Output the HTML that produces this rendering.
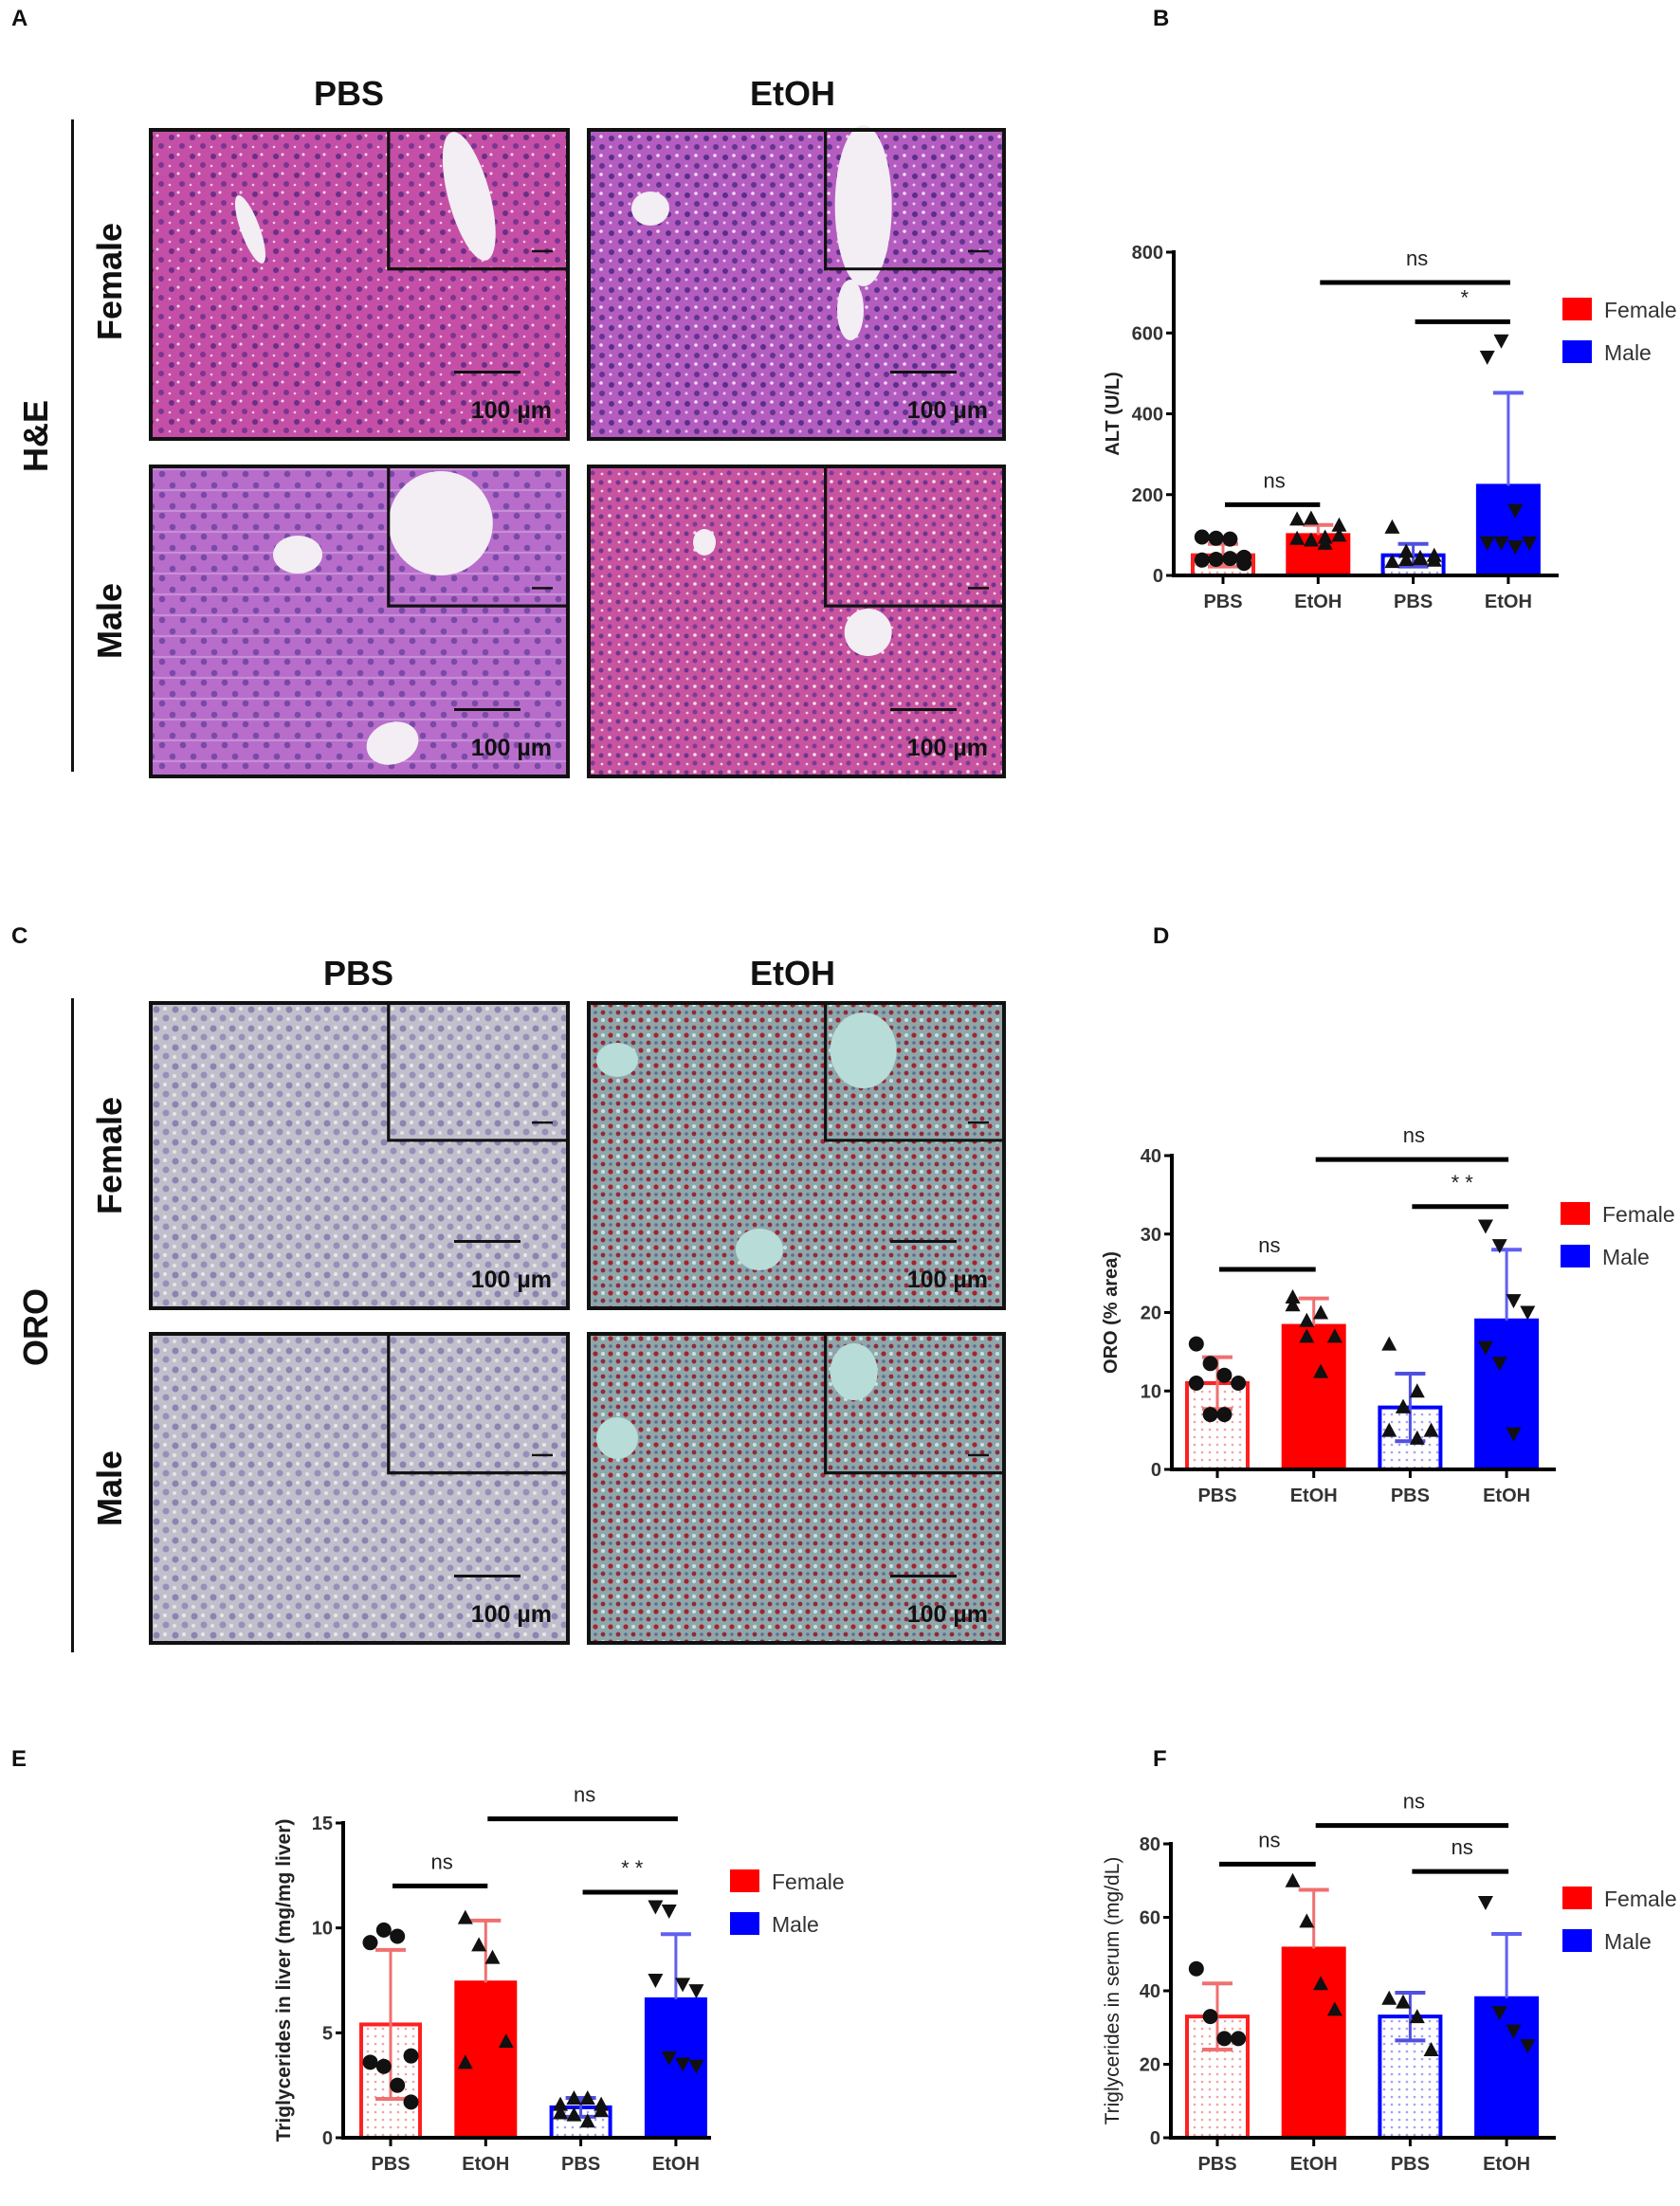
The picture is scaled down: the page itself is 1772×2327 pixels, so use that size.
<!DOCTYPE html>
<html><head><meta charset="utf-8">
<style>
html,body{margin:0;padding:0;background:#fff;}
svg{display:block;}
text{font-family:"Liberation Sans",Arial,sans-serif;}
</style></head>
<body>
<svg id="fig" xmlns="http://www.w3.org/2000/svg" width="1772" height="2327" viewBox="0 0 1772 2327">
<defs>
  <pattern id="heF" width="22" height="20" patternUnits="userSpaceOnUse">
    <rect width="22" height="20" fill="#c54fa6"/>
    <circle cx="5" cy="5" r="3" fill="#6a2f86"/><circle cx="16" cy="14" r="3" fill="#7a3590"/>
    <circle cx="12" cy="3" r="1.5" fill="#f3d6ee"/><circle cx="3" cy="15" r="1.3" fill="#f0c8e8"/>
  </pattern>
  <pattern id="heF2" width="20" height="20" patternUnits="userSpaceOnUse">
    <rect width="20" height="20" fill="#b45cc0"/>
    <circle cx="5" cy="6" r="3" fill="#5a2f8a"/><circle cx="15" cy="15" r="3" fill="#63348e"/>
    <circle cx="14" cy="4" r="1.8" fill="#f1dcf3"/><circle cx="4" cy="15" r="1.5" fill="#e8c8ee"/>
  </pattern>
  <pattern id="heM" width="22" height="22" patternUnits="userSpaceOnUse">
    <rect width="22" height="22" fill="#b86dcb"/>
    <circle cx="6" cy="6" r="3.3" fill="#7b4aa8"/><circle cx="17" cy="16" r="3.3" fill="#7a48a6"/>
    <path d="M0 11 L22 11" stroke="#d9b0e3" stroke-width="1"/>
  </pattern>
  <pattern id="heM2" width="18" height="18" patternUnits="userSpaceOnUse">
    <rect width="18" height="18" fill="#c8539f"/>
    <circle cx="4" cy="5" r="2.5" fill="#6c3590"/><circle cx="13" cy="13" r="2.5" fill="#7a3a98"/>
    <circle cx="13" cy="4" r="1.8" fill="#f5e0f0"/><circle cx="5" cy="14" r="1.4" fill="#f0d0ea"/>
  </pattern>
  <pattern id="oroP" width="20" height="20" patternUnits="userSpaceOnUse">
    <rect width="20" height="20" fill="#c2bfcc"/>
    <circle cx="5" cy="5" r="3.5" fill="#8a84b0"/><circle cx="15" cy="14" r="3.5" fill="#9690b8"/>
    <circle cx="14" cy="4" r="2" fill="#e6e8ea"/><circle cx="4" cy="15" r="2" fill="#e2e4e6"/>
  </pattern>
  <pattern id="oroE" width="16" height="16" patternUnits="userSpaceOnUse">
    <rect width="16" height="16" fill="#8fa6aa"/>
    <circle cx="4" cy="4" r="2.6" fill="#a3242e"/><circle cx="12" cy="12" r="2.4" fill="#8e2a3a"/>
    <circle cx="12" cy="4" r="2" fill="#c8e4e2"/><circle cx="4" cy="12" r="1.8" fill="#5c7090"/>
  </pattern>
  <pattern id="dotR" width="8" height="8" patternUnits="userSpaceOnUse">
    <rect width="8" height="8" fill="#fff"/><circle cx="4" cy="4" r="1.3" fill="#f4a0a0"/>
  </pattern>
  <pattern id="dotB" width="8" height="8" patternUnits="userSpaceOnUse">
    <rect width="8" height="8" fill="#fff"/><circle cx="4" cy="4" r="1.3" fill="#a0a0f4"/>
  </pattern>
</defs>
<g id="micro"></g>
<g id="charts"></g>
</svg>
<script>
// ===== Chart data (top level) =====
const groupLabels = ["PBS","EtOH","PBS","EtOH"];
const legendLabels = ["Female","Male"];

// Panel B: ALT
const altTicks = [0,200,400,600,800];
const altMeans = [50,100,50,222];
const altSD = [28,25,28,230];
const altPts0 = [38,40,42,45,95,92,90,30];
const altPts1 = [140,142,95,100,92,88,80,125];
const altPts2 = [120,40,45,50,35,60,42,38];
const altPts3 = [540,580,160,80,80,80,70];
const altSig = [["ns",0,1,175],["ns",1,3,725],["*",2,3,628]];

// Panel D: ORO
const oroTicks = [0,10,20,30,40];
const oroMeans = [11,18.3,7.9,19];
const oroSD = [3.3,3.5,4.3,9];
const oroPts0 = [16,13.5,12,11,11,7,7];
const oroPts1 = [21,19,20,17,22,17,12.5];
const oroPts2 = [16,8,10,5,5,8,4];
const oroPts3 = [31,28.5,21.5,20,15.5,13.5,4.5];
const oroSig = [["ns",0,1,25.5],["ns",1,3,39.5],["* *",2,3,33.5]];

// Panel E: liver triglycerides
const tgLTicks = [0,5,10,15];
const tgLMeans = [5.4,7.4,1.45,6.6];
const tgLSD = [3.55,2.95,0.45,3.1];
const tgLPts0 = [9.3,9.9,9.6,3.9,3.6,3.4,2.5,1.7];
const tgLPts1 = [10.5,9.2,8.6,4.6,3.6];
const tgLPts2 = [1.6,1.9,1.9,1.3,1.2,1.1,0.8,1.6];
const tgLPts3 = [11.0,10.8,7.3,7.0,7.5,3.8,3.5,3.4];
const tgLSig = [["ns",0,1,12],["ns",1,3,15.2],["* *",2,3,11.7]];

// Panel F: serum triglycerides
const tgSTicks = [0,20,40,60,80];
const tgSMeans = [33,51.5,33,38];
const tgSSD = [9,16,6.5,17.5];
const tgSPts0 = [46,33,27,27];
const tgSPts1 = [70,59,42,35];
const tgSPts2 = [38,37,33,24];
const tgSPts3 = [64,34,29,25];
const tgSSig = [["ns",0,1,74.5],["ns",1,3,85],["ns",2,3,72.5]];

const NS = "http://www.w3.org/2000/svg";
function mk(parent, tag, attrs, txt){
  const e = document.createElementNS(NS, tag);
  for (const k in attrs) e.setAttribute(k, attrs[k]);
  if (txt !== undefined) e.textContent = txt;
  parent.appendChild(e);
  return e;
}

// ===== Micrographs =====
const micro = document.getElementById('micro');
function frame(x,y,w,h,fill,name,vessels,vcol){
  const g = mk(micro,'g',{});
  
  
  mk(g,'rect',{x:x,y:y,width:w,height:h,fill:fill});
  (vessels||[]).forEach(v=>{
    mk(g,'ellipse',{cx:x+v[0],cy:y+v[1],rx:v[2],ry:v[3],fill:vcol||'#f2eef4',transform:`rotate(${v[4]||0} ${x+v[0]} ${y+v[1]})`});
  });
  const iw = w*0.43, ih = h*0.45;
  mk(g,'rect',{x:x+w-iw,y:y,width:iw,height:ih,fill:fill,stroke:'#111','stroke-width':3});
  (vessels||[]).filter(v=>v[5]).forEach(v=>{
    const iv=v[5];
    mk(g,'ellipse',{cx:x+w-iw+iv[0],cy:y+iv[1],rx:iv[2],ry:iv[3],fill:vcol||'#f2eef4',transform:`rotate(${iv[4]||0} ${x+w-iw+iv[0]} ${y+iv[1]})`});
  });
  mk(g,'rect',{x:x+w-iw,y:y,width:iw,height:ih,fill:'none',stroke:'#111','stroke-width':3});
  mk(g,'rect',{x:x+w-38,y:y+ih-20,width:22,height:2.5,fill:'#111'});
  mk(g,'rect',{x:x+w-120,y:y+h-72,width:70,height:3,fill:'#111'});
  const t = mk(g,'text',{x:x+w-17,y:y+h-22,'text-anchor':'end','font-size':25,'font-weight':'bold',fill:'#111'},'100 µm');
  
  
  mk(g,'rect',{x:x,y:y,width:w,height:h,fill:'none',stroke:'#111','stroke-width':4});
}
frame(159,137,440,326,'url(#heF)','he-female-pbs',[[105,105,10,38,-20,[85,70,22,70,-15]]]);
frame(621,137,438,326,'url(#heF2)','he-female-etoh',[[65,83,20,18,0,[40,80,30,85,0]],[276,190,14,32,0]]);
frame(159,492,440,327,'url(#heM)','he-male-pbs',[[155,93,26,20,0,[55,60,55,55,0]],[255,292,28,22,-20]]);
frame(621,492,438,327,'url(#heM2)','he-male-etoh',[[122,80,12,14,0,[45,175,25,25,0]]]);
frame(159,1058,440,322,'url(#oroP)','oro-female-pbs',[]);
frame(621,1058,438,322,'url(#oroE)','oro-female-etoh',[[30,60,22,18,0,[40,50,35,40,0]],[180,260,25,22,0]],'#b8dcd8');
frame(159,1407,440,326,'url(#oroP)','oro-male-pbs',[]);
frame(621,1407,438,326,'url(#oroE)','oro-male-etoh',[[30,110,22,22,0,[30,40,25,30,0]]],'#b8dcd8');

function label(x,y,txt,size,name,rot,weight){
  const a = {x:x,y:y,'text-anchor':'middle','font-size':size,'font-weight':weight||'bold',fill:'#111'};
  if (rot) a.transform = 'rotate(-90 '+x+' '+y+')';
  const t = mk(micro,'text',a,txt);
  
  
}
label(368,111,'PBS',36,'he-pbs-header');
label(836,111,'EtOH',36,'he-etoh-header');
label(378,1039,'PBS',36,'oro-pbs-header');
label(836,1039,'EtOH',36,'oro-etoh-header');
label(128,297,'Female',36,'he-female-label',true);
label(128,655,'Male',36,'he-male-label',true);
label(128,1219,'Female',36,'oro-female-label',true);
label(128,1570,'Male',36,'oro-male-label',true);
label(50,460,'H&E',36,'he-stain-label',true);
label(50,1400,'ORO',36,'oro-stain-label',true);
mk(micro,'rect',{x:75,y:126,width:3,height:688,fill:'#111'});
mk(micro,'rect',{x:75,y:1053,width:3,height:690,fill:'#111'});
[['A',12,27],['B',1216,27],['C',12,995],['D',1216,995],['E',12,1863],['F',1216,1863]].forEach(p=>{
  const t = mk(micro,'text',{x:p[1],y:p[2],'font-size':24,'font-weight':'bold',fill:'#111'},p[0]);
  
  
});

// ===== Charts =====
const charts = document.getElementById('charts');
function drawChart(L, ticks, means, sd, pts, sig, ylabel, name){
  const g = mk(charts,'g',{});
  
  
  const ymax = ticks[ticks.length-1];
  const Y = v => L.y0 - v/ymax*(L.y0-L.yTop);
  const X = i => L.c0 + i*L.step;
  const fills = ['url(#dotR)','#ff0000','url(#dotB)','#0000ff'];
  const strokes = ['#ff2020','#ff0000','#0000ff','#0000ff'];
  const errC = ['#f07070','#f07070','#5050e0','#6060f0'];
  const bw = L.bw;
  means.forEach((m,i)=>{
    const r = mk(g,'rect',{x:X(i)-bw/2+2,y:Y(m),width:bw-4,height:L.y0-Y(m),fill:fills[i],stroke:strokes[i],'stroke-width':4});
    
    
  });
  // error bars (lower half only visible for open bars)
  means.forEach((m,i)=>{
    const c = errC[i];
    const solid = (i===1||i===3);
    const eb = mk(g,'g',{});
    
    
    const lo = solid ? m : Math.max(0,m-sd[i]);
    mk(eb,'line',{x1:X(i),x2:X(i),y1:Y(lo),y2:Y(m+sd[i]),stroke:c,'stroke-width':3});
    mk(eb,'line',{x1:X(i)-16,x2:X(i)+16,y1:Y(m+sd[i]),y2:Y(m+sd[i]),stroke:c,'stroke-width':4});
    if (!solid) mk(eb,'line',{x1:X(i)-16,x2:X(i)+16,y1:Y(lo),y2:Y(lo),stroke:c,'stroke-width':4});
  });
  // points
  pts.forEach((arr,i)=>{
    arr.forEach((v,j)=>{
      const off = ((j%4)-1.5)*(bw/4.6);
      const cx = X(i)+off, cy = Y(v);
      let p;
      if (i===0) p = mk(g,'circle',{cx:cx,cy:cy,r:8,fill:'#111'});
      else if (i===3) p = mk(g,'path',{d:`M${cx-8} ${cy-7} L${cx+8} ${cy-7} L${cx} ${cy+8} Z`,fill:'#111'});
      else p = mk(g,'path',{d:`M${cx-8} ${cy+7} L${cx+8} ${cy+7} L${cx} ${cy-8} Z`,fill:'#111'});
      
      
    });
  });
  // axes
  mk(g,'line',{x1:L.x0,x2:L.x0,y1:L.yTop-2,y2:L.y0+2,stroke:'#000','stroke-width':4});
  mk(g,'line',{x1:L.x0-2,x2:L.x1,y1:L.y0,y2:L.y0,stroke:'#000','stroke-width':4});
  ticks.forEach(t=>{
    mk(g,'line',{x1:L.x0-8,x2:L.x0,y1:Y(t),y2:Y(t),stroke:'#000','stroke-width':3});
    const tl = mk(g,'text',{x:L.x0-11,y:Y(t)+7,'text-anchor':'end','font-size':20,fill:'#333','font-weight':'bold'},String(t));
    
    
  });
  groupLabels.forEach((s,i)=>{
    mk(g,'line',{x1:X(i),x2:X(i),y1:L.y0,y2:L.y0+9,stroke:'#000','stroke-width':3});
    const xl = mk(g,'text',{x:X(i),y:L.y0+34,'text-anchor':'middle','font-size':20,fill:'#333','font-weight':'bold'},s);
    
    
  });
  const yl = mk(g,'text',{x:L.ylx,y:(L.y0+L.yTop)/2,'text-anchor':'middle','font-size':L.yls,'font-weight':L.ylw,fill:'#222',transform:`rotate(-90 ${L.ylx} ${(L.y0+L.yTop)/2})`},ylabel);
  
  
  // significance
  sig.forEach(s=>{
    const y = Y(s[3]);
    const sl = mk(g,'line',{x1:X(s[1])+2,x2:X(s[2])+2,y1:y,y2:y,stroke:'#000','stroke-width':5});
    
    
    const st = mk(g,'text',{x:(X(s[1])+X(s[2]))/2+4,y:y-18,'text-anchor':'middle','font-size':22,fill:'#222'},s[0]);
    
    
  });
  // legend
  legendLabels.forEach((s,i)=>{
    const ly = L.legY + i*45;
    const lr = mk(g,'rect',{x:L.legX,y:ly,width:31,height:24,fill:i?'#0000ff':'#ff0000'});
    
    
    const lt = mk(g,'text',{x:L.legX+44,y:ly+21,'font-size':23,fill:'#333'},s);
    
    
  });
}

drawChart({x0:1238,x1:1644,y0:607,yTop:266,c0:1290,step:100.3,bw:68,ylx:1180,yls:20,ylw:'bold',legX:1648,legY:314},
  altTicks, altMeans, altSD, [altPts0,altPts1,altPts2,altPts3], altSig, 'ALT (U/L)', 'alt-chart');
drawChart({x0:1236,x1:1641,y0:1550,yTop:1219,c0:1284,step:101.7,bw:68,ylx:1178,yls:20,ylw:'bold',legX:1646,legY:1268},
  oroTicks, oroMeans, oroSD, [oroPts0,oroPts1,oroPts2,oroPts3], oroSig, 'ORO (% area)', 'oro-chart');
drawChart({x0:362,x1:750,y0:2255,yTop:1923,c0:412,step:100.3,bw:66,ylx:306,yls:21,ylw:'bold',legX:770,legY:1972},
  tgLTicks, tgLMeans, tgLSD, [tgLPts0,tgLPts1,tgLPts2,tgLPts3], tgLSig, 'Triglycerides in liver (mg/mg liver)', 'liver-tg-chart');
drawChart({x0:1235,x1:1641,y0:2255,yTop:1945,c0:1284,step:101.7,bw:68,ylx:1180,yls:21,ylw:'normal',legX:1648,legY:1990},
  tgSTicks, tgSMeans, tgSSD, [tgSPts0,tgSPts1,tgSPts2,tgSPts3], tgSSig, 'Triglycerides in serum (mg/dL)', 'serum-tg-chart');
</script>
</body></html>
